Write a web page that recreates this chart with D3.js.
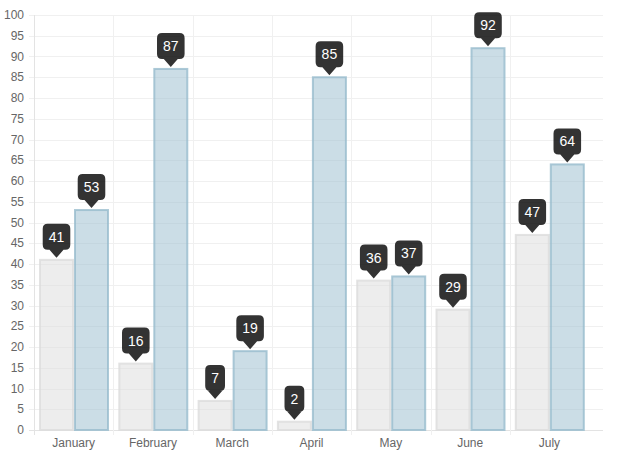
<!DOCTYPE html>
<html>
<head>
<meta charset="utf-8">
<script src="https://cdn.jsdelivr.net/npm/d3@7/dist/d3.min.js"></script>
<style>
  body { margin: 0; background: #fff; }
  svg { display: block; font-family: "Liberation Sans", Arial, Helvetica, sans-serif; }
</style>
</head>
<body>
<svg id="chart" width="621" height="459"></svg>
<script>
var months = ['January', 'February', 'March', 'April', 'May', 'June', 'July'];
var seriesGray = [41, 16, 7, 2, 36, 29, 47];
var seriesBlue = [53, 87, 19, 85, 37, 92, 64];
var yTicks = d3.range(0, 101, 5);

(function () {
  var svg = d3.select('#chart'),
      plotLeft = 34,
      plotTop = 15,
      plotBottom = 430,
      catWidth = 79.3,
      gridRight = 603;

  var x = d3.scaleBand()
            .domain(months)
            .range([plotLeft, plotLeft + catWidth * months.length])
            .paddingInner(0)
            .paddingOuter(0);

  var xInner = d3.scaleBand()
                 .domain(['gray', 'blue'])
                 .range([6, catWidth - 5.3])
                 .paddingInner(2 / 35);

  var y = d3.scaleLinear()
            .domain([0, 100])
            .range([plotBottom, plotTop]);

  // horizontal grid + y ticks
  var yAxis = svg.append('g').attr('class', 'y-axis');

  yAxis.selectAll('line.grid')
       .data(yTicks)
       .enter()
       .append('line')
       .attr('x1', plotLeft - 5)
       .attr('x2', gridRight)
       .attr('y1', function (d) { return Math.round(y(d)) + 0.5; })
       .attr('y2', function (d) { return Math.round(y(d)) + 0.5; })
       .attr('stroke', function (d) { return d === 0 ? '#e3e3e3' : '#f0f0f0'; })
       .attr('stroke-width', 1);

  yAxis.selectAll('text')
       .data(yTicks)
       .enter()
       .append('text')
       .attr('x', plotLeft - 10)
       .attr('y', function (d) { return y(d); })
       .attr('dy', '0.35em')
       .attr('text-anchor', 'end')
       .attr('font-size', 12)
       .attr('fill', '#666')
       .text(function (d) { return d; });

  // vertical grid + x labels
  var xAxis = svg.append('g').attr('class', 'x-axis');

  xAxis.selectAll('line.grid')
       .data(months)
       .enter()
       .append('line')
       .attr('x1', function (d) { return Math.round(x(d)) + 0.5; })
       .attr('x2', function (d) { return Math.round(x(d)) + 0.5; })
       .attr('y1', plotTop)
       .attr('y2', plotBottom + 5)
       .attr('stroke', function (d, i) { return i === 0 ? '#e3e3e3' : '#f0f0f0'; })
       .attr('stroke-width', 1);

  xAxis.selectAll('text')
       .data(months)
       .enter()
       .append('text')
       .attr('x', function (d) { return x(d) + x.bandwidth() / 2; })
       .attr('y', 443)
       .attr('dy', '0.35em')
       .attr('text-anchor', 'middle')
       .attr('font-size', 12)
       .attr('fill', '#666')
       .text(function (d) { return d; });

  // bars
  var rows = months.map(function (m, i) {
    return { month: m, values: [
      { key: 'gray', value: seriesGray[i] },
      { key: 'blue', value: seriesBlue[i] }
    ] };
  });

  var styles = {
    gray: { fill: 'rgba(220,220,220,0.5)', stroke: 'rgba(220,220,220,0.8)' },
    blue: { fill: 'rgba(151,187,205,0.5)', stroke: 'rgba(151,187,205,0.8)' }
  };

  var groups = svg.selectAll('g.month')
                  .data(rows)
                  .enter()
                  .append('g')
                  .attr('class', 'month')
                  .attr('transform', function (d) { return 'translate(' + x(d.month) + ',0)'; });

  var bars = groups.selectAll('g.bar')
                   .data(function (d) { return d.values; })
                   .enter()
                   .append('g')
                   .attr('class', 'bar');

  bars.append('rect')
      .attr('x', function (d) { return xInner(d.key); })
      .attr('y', function (d) { return y(d.value); })
      .attr('width', xInner.bandwidth())
      .attr('height', function (d) { return plotBottom - y(d.value); })
      .attr('fill', function (d) { return styles[d.key].fill; })
      .attr('stroke', function (d) { return styles[d.key].stroke; })
      .attr('stroke-width', 2);

  // tooltips
  var tips = bars.append('g')
                 .attr('class', 'tip')
                 .attr('transform', function (d) {
                   return 'translate(' + (xInner(d.key) + xInner.bandwidth() / 2) + ',' + (y(d.value) - 2) + ')';
                 });

  tips.each(function (d) {
    var g = d3.select(this),
        label = g.append('text')
                 .attr('font-size', 14)
                 .attr('fill', '#fff')
                 .attr('text-anchor', 'middle')
                 .attr('x', 0)
                 .attr('y', -8 - 13)
                 .attr('dy', '0.35em')
                 .text(d.value),
        w = label.node().getComputedTextLength() + 12,
        h = 26,
        r = 5,
        caret = 8,
        half = 7,
        x0 = -w / 2,
        x1 = w / 2,
        yb = -caret,
        yt = -caret - h;

    var path = 'M' + (x0 + r) + ',' + yt +
               'L' + (x1 - r) + ',' + yt +
               'Q' + x1 + ',' + yt + ' ' + x1 + ',' + (yt + r) +
               'L' + x1 + ',' + (yb - r) +
               'Q' + x1 + ',' + yb + ' ' + (x1 - r) + ',' + yb +
               'L' + half + ',' + yb +
               'L0,0' +
               'L' + (-half) + ',' + yb +
               'L' + (x0 + r) + ',' + yb +
               'Q' + x0 + ',' + yb + ' ' + x0 + ',' + (yb - r) +
               'L' + x0 + ',' + (yt + r) +
               'Q' + x0 + ',' + yt + ' ' + (x0 + r) + ',' + yt + 'Z';

    g.insert('path', 'text')
     .attr('d', path)
     .attr('fill', 'rgba(0,0,0,0.8)');
  });
})();
</script>
</body>
</html>
